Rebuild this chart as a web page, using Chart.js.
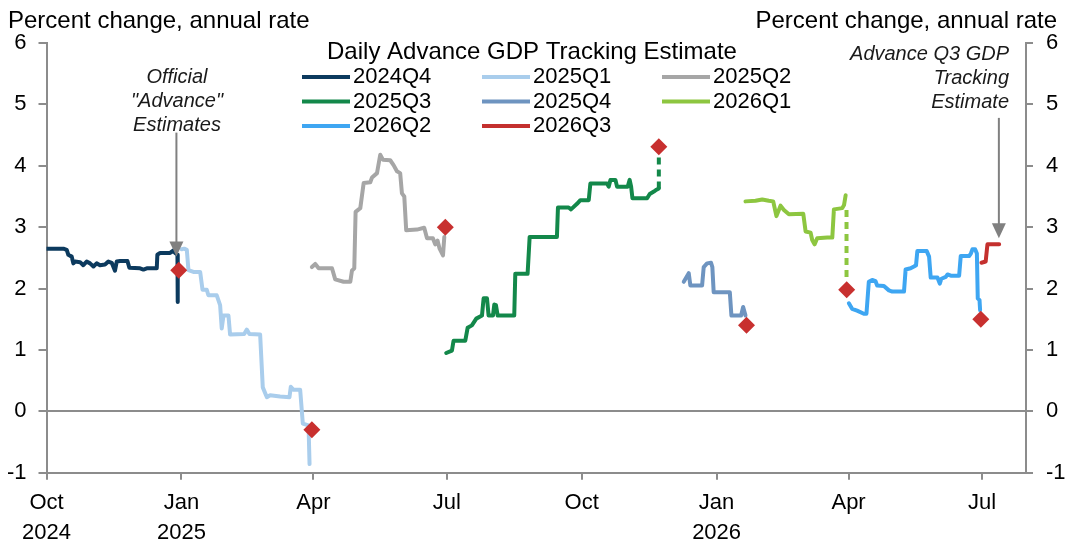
<!DOCTYPE html>
<html lang="en">
<head>
  <meta charset="UTF-8" />
  <title>Daily Advance GDP Tracking Estimate</title>
  <script src="https://cdn.jsdelivr.net/npm/chart.js"></script>
  <style>
    html, body { margin: 0; padding: 0; background: #fff; }
    .chart-box { width: 1070px; height: 553px; position: relative; }
  </style>
</head>
<body>

<div class="chart-box"><canvas id="gdpChart"></canvas></div>

<script>
  // x values = days counted from 1 Oct 2024
  const quarterTicks = [0, 92, 182, 273, 365, 457, 547, 638];
  const quarterLabels = [['Oct', '2024'], ['Jan', '2025'], 'Apr', 'Jul', 'Oct', ['Jan', '2026'], 'Apr', 'Jul'];

  const seriesNames = ['2024Q4', '2025Q1', '2025Q2', '2025Q3', '2025Q4', '2026Q1', '2026Q2', '2026Q3'];

  const q4_2024 = [[0, 2.65], [11.5, 2.65], [13.8, 2.63], [14.9, 2.55], [17.2, 2.52], [18.3, 2.41], [19.5, 2.44],
    [22.9, 2.43], [25.1, 2.38], [27.4, 2.44], [29.7, 2.41], [32, 2.36], [34.2, 2.41], [36.5, 2.38], [39.9, 2.39],
    [42.2, 2.44], [44.5, 2.42], [46.7, 2.29], [47.9, 2.44], [50.2, 2.45], [55.2, 2.45], [56.5, 2.34], [63.8, 2.33],
    [66.1, 2.31], [68.4, 2.33], [75.2, 2.33], [75.6, 2.55], [77.5, 2.58], [84.3, 2.58], [86.6, 2.62], [87.7, 2.58],
    [89.3, 2.55], [89.5, 1.78]];

  const q1_2025 = [[92.2, 2.64], [93.9, 2.65], [95.7, 2.63], [96.8, 2.30], [100.2, 2.27], [104.8, 2.27], [106.4, 1.98],
    [109.3, 1.98], [110.4, 1.89], [116.1, 1.89], [118.4, 1.73], [119.5, 1.35], [120.7, 1.56], [124.1, 1.56],
    [125.2, 1.25], [134.8, 1.26], [136.6, 1.33], [138.4, 1.26], [145.7, 1.25], [147.5, 0.39], [150.3, 0.23],
    [152.5, 0.26], [159.3, 0.24], [165.7, 0.23], [166.6, 0.40], [168.5, 0.35], [173, 0.35], [174.8, -0.20],
    [178.7, -0.23], [179.4, -0.86]];

  const q2_2025 = [[181, 2.35], [183.3, 2.40], [185.6, 2.33], [194.7, 2.33], [196.9, 2.15], [202.6, 2.11], [207.2, 2.11],
    [208.3, 2.29], [209.9, 2.33], [210.8, 3.25], [214, 3.31], [216.3, 3.72], [220.8, 3.73], [222, 3.81], [225.4, 3.88],
    [227.6, 4.18], [229.4, 4.10], [234.4, 4.09], [236.7, 4.01], [239, 3.91], [241.2, 3.88], [242.4, 3.55], [244, 3.50],
    [245.3, 2.95], [252.6, 2.96], [257.6, 2.99], [259.5, 2.82], [263.5, 2.82], [265.1, 2.72], [266.7, 2.78],
    [268.1, 2.65], [270.4, 2.54], [271.3, 2.84]];

  const q3_2025 = [[272.6, 0.95], [276.5, 0.99], [277.6, 1.15], [285.6, 1.15], [287.2, 1.36], [290.1, 1.40], [293.1, 1.51],
    [297, 1.56], [298.1, 1.84], [300.4, 1.84], [301.5, 1.56], [304.5, 1.56], [305.4, 1.74], [306.5, 1.73], [307.7, 1.56],
    [319, 1.56], [319.7, 2.24], [328.1, 2.24], [329.5, 2.84], [348.1, 2.84], [348.8, 3.32], [356.1, 3.32], [357.7, 3.29],
    [361.8, 3.38], [364.1, 3.44], [369.8, 3.44], [370.9, 3.71], [382.3, 3.71], [383.4, 3.66], [384.6, 3.77], [388, 3.77],
    [389.1, 3.66], [396.4, 3.66], [397.7, 3.77], [398.7, 3.66], [399.6, 3.47], [409.6, 3.47], [411.4, 3.54],
    [414.2, 3.58], [416, 3.61], [417.6, 3.63]];
  const q3_2025_tail = [[417.6, 3.63], [417.6, 4.22]];

  const q4_2025 = [[434.6, 2.11], [438, 2.25], [439.1, 2.05], [447.1, 2.05], [448.2, 2.35], [450.5, 2.41], [453.2, 2.42],
    [454.1, 2.35], [455, 1.94], [466, 1.94], [467.1, 1.56], [473.7, 1.56], [475.1, 1.70], [476.7, 1.56]];

  const q1_2026 = [[476.7, 3.42], [483.5, 3.43], [488.1, 3.45], [492.6, 3.43], [495.6, 3.42], [497.8, 3.18], [500.6, 3.35],
    [502.9, 3.28], [506.3, 3.21], [516.1, 3.22], [517.7, 2.93], [521.1, 2.91], [522.2, 2.79], [523.8, 2.72],
    [525.6, 2.82], [532.5, 2.83], [535.9, 2.83], [537, 3.29], [542.7, 3.31], [543.9, 3.36], [545, 3.52]];
  const q1_2026_tail = [[545.6, 3.28], [545.6, 2.15]];

  const q2_2026 = [[547.2, 1.76], [549.4, 1.67], [552.8, 1.64], [557.4, 1.59], [559.2, 1.59], [560.8, 2.11], [563.1, 2.14],
    [565.4, 2.12], [566.5, 2.05], [571.1, 2.04], [574.5, 1.97], [576.8, 1.95], [584.8, 1.95], [585.9, 2.31],
    [589.3, 2.33], [591.6, 2.36], [593, 2.38], [593.9, 2.61], [600.3, 2.61], [601.9, 2.52], [603, 2.18], [607.6, 2.18],
    [609.2, 2.08], [610.3, 2.16], [613.3, 2.19], [614.5, 2.23], [616.7, 2.21], [622.4, 2.21], [623.5, 2.53],
    [629.2, 2.53], [630.4, 2.57], [631.5, 2.64], [633.3, 2.64], [634.5, 2.57], [635.1, 1.84], [636.3, 1.81],
    [636.7, 1.65]];

  const q3_2026 = [[637.6, 2.42], [640.5, 2.44], [641.7, 2.72], [649.7, 2.72]];

  // official "advance" estimates
  const advanceEstimates = [[90.2, 2.30], [181, -0.30], [272, 3.0], [417.6, 4.31], [477.4, 1.40], [545.7, 1.98], [637.2, 1.50]];

  const seriesData = [q4_2024, q1_2025, q2_2025, q3_2025, q4_2025, q1_2026, q2_2026, q3_2026];
  const seriesColors = ['#0c3a5e', '#a9cdec', '#a6a6a6', '#13884a', '#6e94c0', '#8dc640', '#3ea6f2', '#c4302e'];

  const axisGray = '#8c8c8c';
  const FONT = '"Liberation Sans", Arial, sans-serif';

  const toXY = arr => arr.map(p => ({ x: p[0], y: p[1] }));

  const datasets = [{
    label: 'Advance',
    data: toXY(advanceEstimates),
    showLine: false,
    pointStyle: 'rectRot',
    pointRadius: 8.5,
    backgroundColor: '#c8302f',
    borderColor: '#c8302f',
    borderWidth: 0,
    order: -1
  }];

  seriesData.forEach((d, i) => {
    datasets.push({
      label: seriesNames[i],
      data: toXY(d),
      showLine: true,
      borderColor: seriesColors[i],
      borderWidth: 4,
      pointRadius: 0,
      tension: 0,
      borderJoinStyle: 'round',
      borderCapStyle: 'round'
    });
  });

  // dashed jumps to the official print
  [[q3_2025_tail, 3], [q1_2026_tail, 5]].forEach(([d, i]) => {
    datasets.push({
      label: seriesNames[i] + ' tail',
      data: toXY(d),
      showLine: true,
      borderColor: seriesColors[i],
      borderWidth: 4,
      borderDash: [7, 5],
      pointRadius: 0
    });
  });

  const arrows = [
    { x: 88.6, from: 4.54, to: 2.52 },
    { x: 649.5, from: 4.78, to: 2.82 }
  ];

  const decorPlugin = {
    id: 'decor',
    afterDraw(chart) {
      const ctx = chart.ctx;
      const xs = chart.scales.x, ys = chart.scales.y;
      ctx.save();
      ctx.fillStyle = '#000';
      ctx.textBaseline = 'middle';

      // unit labels
      ctx.font = '24px ' + FONT;
      ctx.textAlign = 'left';
      ctx.fillText('Percent change, annual rate', 8, 21);
      ctx.textAlign = 'right';
      ctx.fillText('Percent change, annual rate', 1057, 21);

      // legend
      ctx.textAlign = 'center';
      ctx.fillText('Daily Advance GDP Tracking Estimate', 532, 52);
      const cols = [302, 482, 662];
      const rows = [77, 101.5, 126];
      ctx.font = '22px ' + FONT;
      ctx.textAlign = 'left';
      seriesNames.forEach((name, i) => {
        const x0 = cols[i % 3], y0 = rows[Math.floor(i / 3)];
        ctx.strokeStyle = seriesColors[i];
        ctx.lineWidth = 4;
        ctx.beginPath();
        ctx.moveTo(x0, y0);
        ctx.lineTo(x0 + 48, y0);
        ctx.stroke();
        ctx.fillStyle = '#000';
        ctx.fillText(name, x0 + 51, y0);
      });

      // annotations
      ctx.font = 'italic 20px ' + FONT;
      ctx.fillStyle = '#1a1a1a';
      ctx.textAlign = 'center';
      ['Official', '"Advance"', 'Estimates'].forEach((t, i) => ctx.fillText(t, 177, 77 + i * 24));
      ctx.textAlign = 'right';
      ['Advance Q3 GDP', 'Tracking', 'Estimate'].forEach((t, i) => ctx.fillText(t, 1009, 54 + i * 24));

      // arrows
      ctx.strokeStyle = '#808080';
      ctx.fillStyle = '#808080';
      ctx.lineWidth = 2;
      arrows.forEach(a => {
        const px = xs.getPixelForValue(a.x);
        const y1 = ys.getPixelForValue(a.from);
        const y2 = ys.getPixelForValue(a.to);
        ctx.beginPath();
        ctx.moveTo(px, y1);
        ctx.lineTo(px, y2 - 14);
        ctx.stroke();
        ctx.beginPath();
        ctx.moveTo(px - 7, y2 - 15);
        ctx.lineTo(px + 7, y2 - 15);
        ctx.lineTo(px, y2);
        ctx.closePath();
        ctx.fill();
      });
      ctx.restore();
    }
  };

  new Chart(document.getElementById('gdpChart'), {
    type: 'scatter',
    data: { datasets },
    plugins: [decorPlugin],
    options: {
      responsive: true,
      maintainAspectRatio: false,
      animation: false,
      devicePixelRatio: 1,
      layout: { padding: { top: 43, left: 0, right: 0, bottom: 0 } },
      plugins: {
        legend: { display: false },
        tooltip: { enabled: false }
      },
      scales: {
        x: {
          type: 'linear',
          min: 0,
          max: 668,
          afterBuildTicks: scale => { scale.ticks = quarterTicks.map(v => ({ value: v })); },
          afterFit: scale => { scale.height = 80.3; },
          grid: { drawOnChartArea: false, tickLength: 7, tickColor: axisGray, lineWidth: 2 },
          border: { color: axisGray, width: 2 },
          ticks: {
            autoSkip: false,
            maxRotation: 0,
            padding: 8,
            color: '#000',
            font: { family: FONT, size: 22, lineHeight: 1.36 },
            callback: (v, i) => quarterLabels[i]
          }
        },
        y: {
          position: 'left',
          min: -1,
          max: 6,
          afterFit: scale => { scale.width = 46.5; },
          grid: {
            color: c => (c.tick && c.tick.value === 0) ? axisGray : 'rgba(0,0,0,0)',
            tickColor: axisGray,
            tickLength: 8,
            lineWidth: 2
          },
          border: { color: axisGray, width: 2 },
          ticks: { stepSize: 1, padding: 12, color: '#000', font: { family: FONT, size: 22 } }
        },
        y2: {
          position: 'right',
          min: -1,
          max: 6,
          afterFit: scale => { scale.width = 44; },
          grid: { drawOnChartArea: false, tickColor: axisGray, tickLength: 7, lineWidth: 2 },
          border: { color: axisGray, width: 2 },
          ticks: { stepSize: 1, padding: 13, color: '#000', font: { family: FONT, size: 22 } }
        }
      }
    }
  });
</script>

</body>
</html>
